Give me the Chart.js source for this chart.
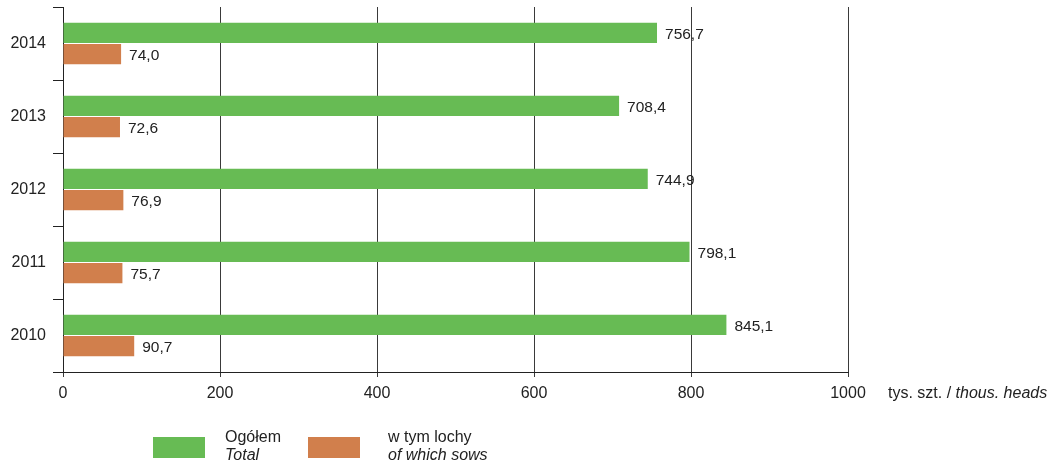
<!DOCTYPE html>
<html>
<head>
<meta charset="utf-8">
<script src="https://cdn.jsdelivr.net/npm/chart.js@4/dist/chart.umd.min.js"></script>
<style>
  html, body { margin: 0; padding: 0; background: #fff; }
  #wrap { width: 1057px; height: 467px; position: relative; }
</style>
</head>
<body>
<div id="wrap"><canvas id="c"></canvas></div>
<script>
// Pig stock by year (thousand heads)
const years = ['2014', '2013', '2012', '2011', '2010'];
const totalHeads = [756.7, 708.4, 744.9, 798.1, 845.1];
const sowsHeads = [74.0, 72.6, 76.9, 75.7, 90.7];
const seriesNamesPl = ['Ogółem', 'w tym lochy'];
const seriesNamesEn = ['Total', 'of which sows'];
const unitPl = 'tys. szt. / ';
const unitEn = 'thous. heads';
const axisTicks = [0, 200, 400, 600, 800, 1000];

const GREEN = '#67bb54';
const ORANGE = '#d17f4c';
const TEXT = '#222';
const FONT = '"Liberation Sans", Arial, sans-serif';

const fmt = v => v.toFixed(1).replace('.', ',');

// Value labels at bar ends, unit caption and two-line bilingual legend
const extras = {
  id: 'extras',
  afterDatasetsDraw(chart) {
    const ctx = chart.ctx;
    ctx.save();
    ctx.font = '15.5px ' + FONT;
    ctx.fillStyle = TEXT;
    ctx.textAlign = 'left';
    ctx.textBaseline = 'middle';
    chart.data.datasets.forEach((ds, i) => {
      chart.getDatasetMeta(i).data.forEach((bar, j) => {
        ctx.fillText(fmt(ds.data[j]), bar.x + 8, bar.y + 1.5);
      });
    });

    // unit caption to the right of the last tick label
    const area = chart.chartArea;
    const uy = area.bottom + 22;
    let ux = area.right + 40;
    ctx.font = '16px ' + FONT;
    ctx.fillText(unitPl, ux, uy);
    ux += ctx.measureText(unitPl).width;
    ctx.font = 'italic 16px ' + FONT;
    ctx.fillText(unitEn, ux, uy);

    // legend
    const boxes = [153, 308];
    const textX = [225, 388];
    ctx.textBaseline = 'alphabetic';
    chart.data.datasets.forEach((ds, i) => {
      ctx.fillStyle = ds.backgroundColor;
      ctx.fillRect(boxes[i], 437, 52, 21);
      ctx.fillStyle = TEXT;
      ctx.font = '16px ' + FONT;
      ctx.fillText(seriesNamesPl[i], textX[i], 442);
      ctx.font = 'italic 16px ' + FONT;
      ctx.fillText(seriesNamesEn[i], textX[i], 460);
    });
    ctx.restore();
  }
};

new Chart(document.getElementById('c'), {
  type: 'bar',
  data: {
    labels: years,
    datasets: [
      { label: seriesNamesPl[0], data: totalHeads, backgroundColor: GREEN,
        categoryPercentage: 0.58, barPercentage: 0.95 },
      { label: seriesNamesPl[1], data: sowsHeads, backgroundColor: ORANGE,
        categoryPercentage: 0.58, barPercentage: 0.95 }
    ]
  },
  options: {
    indexAxis: 'y',
    responsive: true,
    maintainAspectRatio: false,
    animation: false,
    devicePixelRatio: 1,
    layout: { padding: { left: 0, right: 209, top: 7, bottom: 65 } },
    plugins: { legend: { display: false }, tooltip: { enabled: false } },
    scales: {
      x: {
        min: axisTicks[0],
        max: axisTicks[axisTicks.length - 1],
        afterBuildTicks: s => { s.ticks = axisTicks.map(v => ({ value: v })); },
        afterFit: s => { s.height = 30; s.paddingLeft = 0; s.paddingRight = 0; },
        ticks: { color: TEXT, font: { size: 16, family: FONT }, padding: 7, maxRotation: 0,
                 callback: v => String(v) },
        grid: { color: '#3a3a3a', lineWidth: 1, tickLength: 5, drawTicks: true },
        border: { color: '#222', width: 1 }
      },
      y: {
        afterFit: s => { s.width = 63; s.paddingTop = 0; s.paddingBottom = 0; },
        ticks: { color: TEXT, font: { size: 16, family: FONT }, padding: 7 },
        grid: { drawOnChartArea: false, drawTicks: true, tickLength: 10, color: '#222', offset: true },
        border: { color: '#222', width: 1 }
      }
    }
  },
  plugins: [extras]
});
</script>
</body>
</html>
